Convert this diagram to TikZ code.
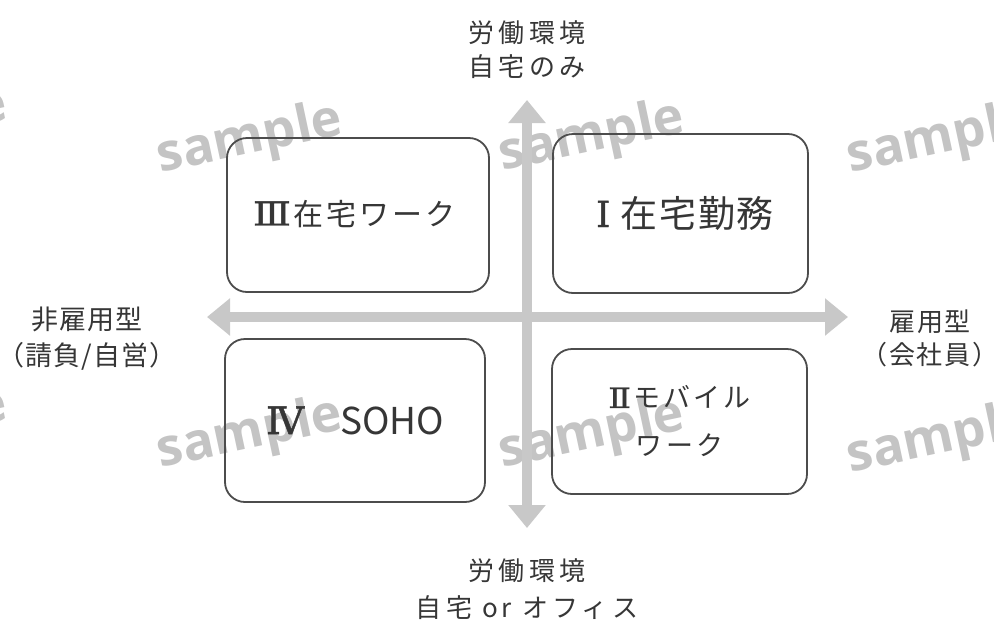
\documentclass[tikz,border=0pt]{standalone}
\usepackage{fontspec}
\usetikzlibrary{arrows.meta}
\setmainfont{Noto Sans CJK JP}
\newfontfamily\romfont{DejaVu Serif}[FakeBold=1.2]
\newfontfamily\romwide{DejaVu Serif}[FakeBold=1.2,FakeStretch=1.2]
\newfontfamily\wmfont{Open Sans}
\definecolor{txt}{HTML}{363636}
\definecolor{bord}{HTML}{4C4C4C}
\definecolor{axis}{HTML}{C8C8C8}
\definecolor{wm}{HTML}{C4C4C4}
\tikzset{
  quad/.style={draw=bord, line width=1.8pt, rounded corners=20pt, inner sep=0pt},
  lbl/.style={text=txt, align=center, inner sep=0pt},
  axisarrow/.style={draw=axis, line width=10pt, {Triangle[width=36pt,length=23pt]}-{Triangle[width=36pt,length=23pt]}},
  wmark/.style={text=wm, rotate=12, inner sep=0pt, font=\wmfont\bfseries\fontsize{52}{52}\selectfont}
}
\begin{document}
\begin{tikzpicture}[x=1pt,y=-1pt]
\useasboundingbox (0,0) rectangle (994,619);
% watermarks
\foreach \i/\x/\y in {1/-85/125, 2/250/140, 3/592/138, 4/940/140, 5/-85/425, 6/250/435, 7/592/435, 8/940/440}
  \node[wmark] (wm\i) at (\x,\y) {sample};
% axes
\coordinate (ytop) at (527,100);
\coordinate (ybot) at (527,528);
\coordinate (xleft) at (207,317);
\coordinate (xright) at (848,317);
\draw[axisarrow] (ybot) -- (ytop);
\draw[axisarrow] (xleft) -- (xright);
% boxes
\node[quad, minimum width=262pt, minimum height=154pt] (q3) at (358,215) {};
\node[quad, minimum width=255pt, minimum height=159pt] (q1) at (680.5,213.5) {};
\node[quad, minimum width=260pt, minimum height=163pt] (q4) at (355,420.5) {};
\node[quad, minimum width=255pt, minimum height=145pt] (q2) at (679.5,421.5) {};
% box texts
\node[lbl, font=\fontsize{30}{36}\selectfont\addfontfeature{LetterSpace=10}] (t3) at (354,214) {{\romwide\fontsize{33}{33}\selectfont Ⅲ}\hspace{2pt}在宅ワーク};
\node[lbl, font=\fontsize{37}{44}\selectfont\addfontfeature{LetterSpace=5}] (t1) at (685,213) {{\romfont\fontsize{36}{36}\selectfont Ⅰ} 在宅勤務};
\node[lbl] (t4) at (q4) {{\romfont\fontsize{38}{38}\selectfont Ⅳ}\hspace{36pt}{\fontsize{37}{40}\selectfont SOHO}};
\node[lbl, font=\fontsize{27}{48}\selectfont\addfontfeature{LetterSpace=12}] (t2) at (q2) {{\romwide\fontsize{28}{28}\selectfont Ⅱ}\hspace{2pt}モバイル\\ワーク};
% axis labels
\node[lbl, font=\fontsize{26}{34}\selectfont\addfontfeature{LetterSpace=16}] (ltop) at (527,50) {労働環境\\自宅のみ};
\node[lbl, font=\fontsize{26}{37}\selectfont\addfontfeature{LetterSpace=16}] (lbot) at (527,589) {労働環境\\自宅 or オフィス};
\node[lbl, font=\fontsize{27}{36}\selectfont\addfontfeature{LetterSpace=4}] (lleft) at (87,339) {非雇用型\\（請負/自営）};
\node[lbl, font=\fontsize{26}{33}\selectfont\addfontfeature{LetterSpace=6}] (lright) at (930,338) {雇用型\\（会社員）};
\end{tikzpicture}
\end{document}
